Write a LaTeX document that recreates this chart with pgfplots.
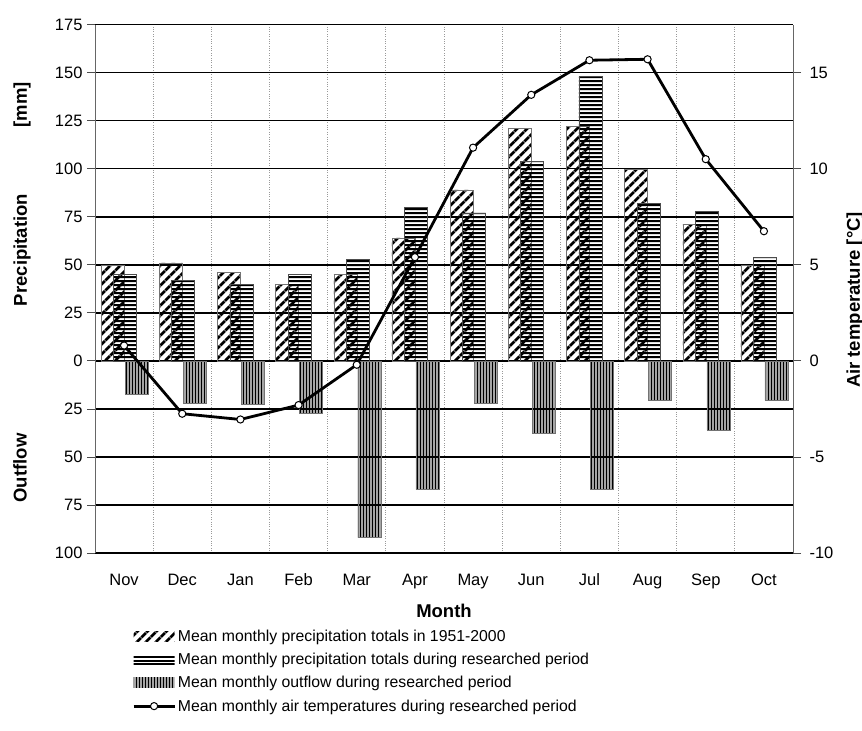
\documentclass[border=0pt]{standalone}
\usepackage{fontspec}
\setmainfont{Liberation Sans}
\usepackage{pgfplots}
\pgfplotsset{compat=1.18}
\usetikzlibrary{patterns,patterns.meta}

\newcommand{\tickfont}{\fontsize{16.5bp}{19bp}\selectfont}
\newcommand{\legfont}{\fontsize{15.8bp}{18bp}\selectfont}
\newcommand{\titlefont}{\fontsize{18.5bp}{21bp}\selectfont\bfseries}

\pgfdeclarepatternformonly{vstripes}{\pgfqpoint{0bp}{0bp}}{\pgfqpoint{3.4bp}{800bp}}{\pgfqpoint{3.4bp}{800bp}}{%
  \pgfpathrectangle{\pgfqpoint{0.7bp}{0bp}}{\pgfqpoint{2.1bp}{800bp}}\pgfusepath{fill}}
\pgfdeclarepatternformonly{hstripes}{\pgfqpoint{0bp}{0bp}}{\pgfqpoint{900bp}{3.8bp}}{\pgfqpoint{900bp}{3.8bp}}{%
  \pgfpathrectangle{\pgfqpoint{0bp}{0.8bp}}{\pgfqpoint{900bp}{2.2bp}}\pgfusepath{fill}}

\tikzset{
 hatchA/.style={pattern={Lines[angle=45,distance=6.8bp,line width=2.9bp]}},
 hatchB/.style={pattern=hstripes},
 hatchC/.style={pattern=vstripes},
}
\pgfplotsset{
 tlegend/.style={legend image code/.code={\draw[mark repeat=2,mark phase=2,##1] plot coordinates {(0bp,0bp)(20.5bp,0bp)(41bp,0bp)};}},
 patlegA/.style={legend image code/.code={\draw[hatchA, draw=none] (0bp,-5bp) rectangle (41bp,5bp);}},
 patlegB/.style={legend image code/.code={\draw[hatchB, draw=none] (0bp,-5bp) rectangle (41bp,5bp);}},
 patlegC/.style={legend image code/.code={\draw[hatchC, draw=none] (0bp,-5bp) rectangle (41bp,5bp);}},
}

\begin{document}
\begin{tikzpicture}
\useasboundingbox (-95bp,-178bp) rectangle (767bp,553bp);
\begin{axis}[
  scale only axis, width=698bp, height=528.3bp,
  xmin=-0.5, xmax=11.5, ymin=-100, ymax=175,
  axis y line*=left, axis x line*=bottom,
  xtick={0,...,11},
  xticklabels={Nov,Dec,Jan,Feb,Mar,Apr,May,Jun,Jul,Aug,Sep,Oct},
  minor xtick={0.5,1.5,...,10.5},
  xminorgrids, ymajorgrids,
  major grid style={black, line width=1.4bp},
  minor grid style={black!40, dotted, line width=0.8bp},
  ytick={-100,-75,...,175},
  yticklabels={100,75,50,25,0,25,50,75,100,125,150,175},
  tick align=outside, major tick length=8bp, minor tick length=0pt,
  xtick style={draw=none},
  ytick style={black!70, line width=0.8bp},
  x axis line style={black, line width=1.4bp, -},
  y axis line style={black!60, line width=0.8bp, -},
  tick label style={font=\tickfont},
  xticklabel style={text height=12bp, text depth=3.5bp, yshift=-9bp},
  yticklabel style={xshift=-1bp},
]
\addplot[ybar, bar width=23bp, bar shift=-11.5bp, draw=black!55, line width=0.5bp, hatchA]
  coordinates {(0,50)(1,51)(2,46)(3,40)(4,45)(5,64)(6,89)(7,121)(8,122)(9,100)(10,71)(11,50)};
\addplot[ybar, bar width=23bp, bar shift=1bp, draw=black!70, line width=0.6bp, hatchB]
  coordinates {(0,45)(1,42)(2,40)(3,45)(4,53)(5,80)(6,77)(7,104)(8,148)(9,82)(10,78)(11,54)};
\addplot[ybar, bar width=23bp, bar shift=12.5bp, draw=black!55, line width=0.5bp, hatchC]
  coordinates {(0,-17.5)(1,-22)(2,-22.5)(3,-27.5)(4,-92)(5,-67)(6,-22)(7,-37.5)(8,-67)(9,-20.5)(10,-36)(11,-20.5)};
\end{axis}
\begin{axis}[
  scale only axis, width=698bp, height=528.3bp,
  xmin=-0.5, xmax=11.5, ymin=-10, ymax=17.5,
  axis y line*=right, axis x line=none,
  ytick={-10,-5,...,15},
  yticklabels={-10,-5,0,5,10,15},
  tick align=outside, major tick length=8bp,
  ytick style={black!70, line width=0.8bp},
  y axis line style={black!60, line width=0.8bp, -},
  tick label style={font=\tickfont},
  yticklabel style={xshift=5bp},
  legend cell align=left,
  legend style={at={(axis description cs:0.053,-0.142)}, anchor=north west,
    draw=none, fill=none, font=\legfont, inner sep=0pt, row sep=6.2bp,
    nodes={inner sep=2bp}},
]
\addlegendimage{patlegA}
\addlegendentry{Mean monthly precipitation totals in 1951-2000}
\addlegendimage{patlegB}
\addlegendentry{Mean monthly precipitation totals during researched period}
\addlegendimage{patlegC}
\addlegendentry{Mean monthly outflow during researched period}
\addplot[black, line width=2.8bp, mark=*, mark size=3.6bp,
  mark options={fill=white, line width=1bp, solid}, tlegend]
  coordinates {(0,0.8)(1,-2.75)(2,-3.05)(3,-2.3)(4,-0.2)(5,5.4)(6,11.1)(7,13.85)(8,15.65)(9,15.7)(10,10.5)(11,6.75)};
\addlegendentry{Mean monthly air temperatures during researched period}
\end{axis}
\node[rotate=90, font=\titlefont] at (-73bp,303bp) {Precipitation};
\node[rotate=90, font=\titlefont] at (-73bp,448bp) {[mm]};
\node[rotate=90, font=\titlefont] at (-75bp,85bp) {Outflow};
\node[rotate=90, font=\titlefont] at (760bp,253bp) {Air temperature [°C]};
\node[font=\titlefont] at (349bp,-58bp) {Month};
\end{tikzpicture}
\end{document}
